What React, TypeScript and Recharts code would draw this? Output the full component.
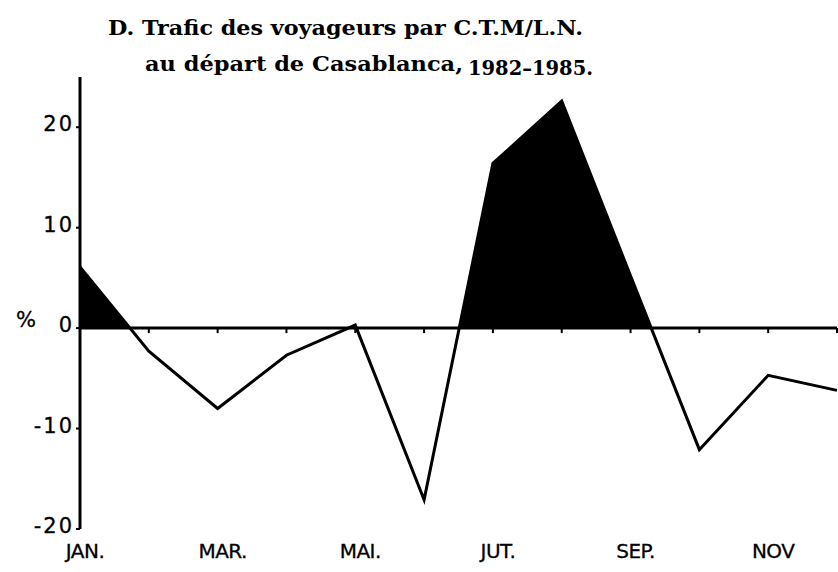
import React from 'react';
import { ComposedChart, Area, Scatter, XAxis, YAxis, ReferenceLine } from 'recharts';

const months = ['JAN.', 'FEV.', 'MAR.', 'AVR.', 'MAI.', 'JUN.', 'JUT.', 'AOU.', 'SEP.', 'OCT.', 'NOV', 'DEC.'];
const monthLabels = ['JAN.', '', 'MAR.', '', 'MAI.', '', 'JUT.', '', 'SEP.', '', 'NOV', ''];
const values = [6.1, -2.3, -8.0, -2.7, 0.3, -17.1, 16.4, 22.6, 5.2, -12.1, -4.7, -6.2];
const yTicks = [-20, -10, 0, 10, 20];

const titleLine1 = 'D. Trafic des voyageurs par C.T.M/L.N.';
const titleLine2a = 'au départ de Casablanca,';
const titleLine2b = '1982–1985.';

const data = months.map((m, i) => ({ month: m, label: monthLabels[i], value: values[i], zero: 0 }));

const maxV = Math.max(...values);
const minV = Math.min(...values);
const zeroOffset = maxV / (maxV - minV);

const sans = '"DejaVu Sans", "Liberation Sans", sans-serif';

const MonthTick = (props: any) => {
  const { x, y, payload } = props;
  const label = monthLabels[months.indexOf(payload.value)];
  if (!label) return null;
  return (
    <text x={x + 5} y={y + 21} textAnchor="middle" fontFamily={sans} fontSize={20} fill="#000"
      stroke="#000" strokeWidth={0.3} letterSpacing={-0.5}>
      {label}
    </text>
  );
};

const PercentTick = (props: any) => {
  const { x, y, payload } = props;
  return (
    <g>
      <text x={x + 2} y={y + 4} textAnchor="end" fontFamily={sans} fontSize={21} fill="#000"
        stroke="#000" strokeWidth={0.3} letterSpacing={2}>
        {payload.value}
      </text>
      {payload.value === 0 && (
        <text x={26} y={y - 1} textAnchor="middle" fontFamily={sans} fontSize={21} fill="#000"
          stroke="#000" strokeWidth={0.3}>
          %
        </text>
      )}
    </g>
  );
};

const ZeroTick = (props: any) => {
  const { cx, cy } = props;
  return <line x1={cx} x2={cx} y1={cy} y2={cy + 5} stroke="#000" strokeWidth={2} />;
};

export default function App() {
  return (
    <div style={{ position: 'absolute', left: 0, top: 0, width: 838, height: 572, background: '#fff' }}>
      <svg width={838} height={90} style={{ position: 'absolute', left: 0, top: 0 }}>
        <g fontFamily='"DejaVu Serif", "Liberation Serif", serif' fontWeight="bold" fill="#000">
          <text x={108} y={35} fontSize={20} textLength={475} lengthAdjust="spacingAndGlyphs">
            {titleLine1}
          </text>
          <text x={145} y={71} fontSize={20} textLength={318} lengthAdjust="spacingAndGlyphs">
            {titleLine2a}
          </text>
          <text x={468} y={75} fontSize={21} textLength={125} lengthAdjust="spacingAndGlyphs">
            {titleLine2b}
          </text>
        </g>
      </svg>
      <ComposedChart
        width={838}
        height={572}
        data={data}
        margin={{ top: 77, right: 1, bottom: 0, left: 0 }}
        style={{ position: 'absolute', left: 0, top: 0 }}
      >
        <defs>
          <linearGradient id="posFill" x1="0" y1="0" x2="0" y2="1">
            <stop offset={0} stopColor="#000" stopOpacity={1} />
            <stop offset={zeroOffset} stopColor="#000" stopOpacity={1} />
            <stop offset={zeroOffset} stopColor="#fff" stopOpacity={0} />
            <stop offset={1} stopColor="#fff" stopOpacity={0} />
          </linearGradient>
        </defs>
        <XAxis
          dataKey="month"
          height={43}
          interval={0}
          axisLine={false}
          tickLine={false}
          tick={<MonthTick />}
        />
        <YAxis
          width={80}
          domain={[-20, 25]}
          ticks={yTicks}
          interval={0}
          axisLine={{ stroke: '#000', strokeWidth: 3 }}
          tickLine={{ stroke: '#000', strokeWidth: 2 }}
          tickSize={4}
          tickMargin={4}
          tick={<PercentTick />}
        />
        <ReferenceLine y={0} stroke="#000" strokeWidth={3} />
        <Area
          type="linear"
          dataKey="value"
          baseValue={0}
          stroke="#000"
          strokeWidth={3}
          fill="url(#posFill)"
          fillOpacity={1}
          dot={false}
          activeDot={false}
          isAnimationActive={false}
        />
        <Scatter dataKey="zero" shape={<ZeroTick />} isAnimationActive={false} />
      </ComposedChart>
    </div>
  );
}
